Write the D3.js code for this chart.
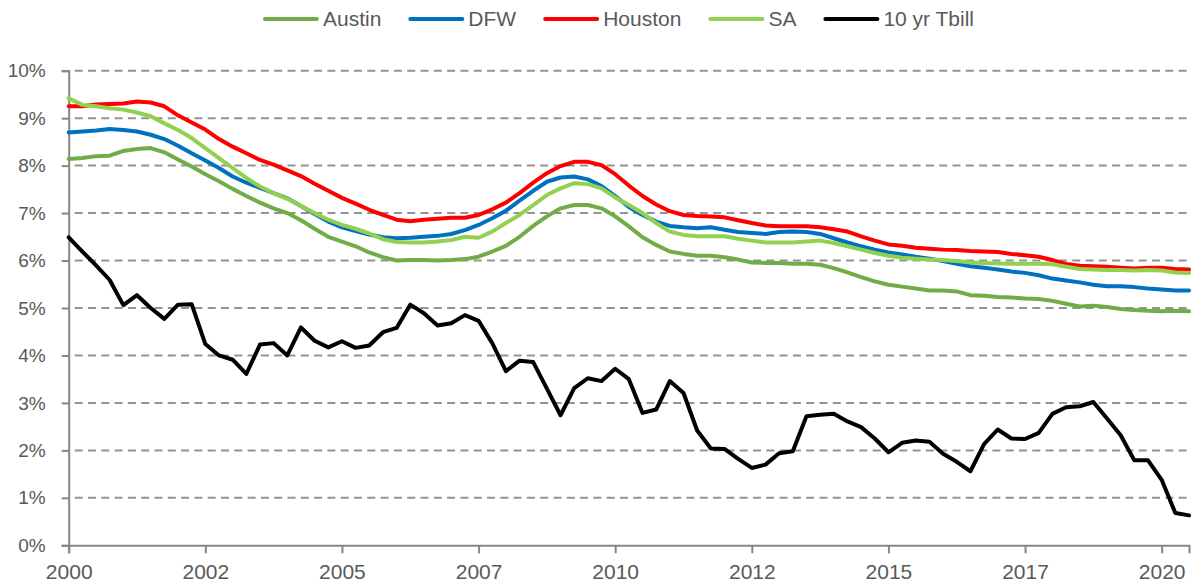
<!DOCTYPE html>
<html>
<head>
<meta charset="utf-8">
<script src="https://cdn.jsdelivr.net/npm/d3@7"></script>
<style>
  body { margin: 0; background: #fff; }
  text { font-family: "Liberation Sans", Arial, sans-serif; fill: #595959; }
</style>
</head>
<body>
<div class="chart"></div>
<script>
// quarterly rates, Q1 2000 .. Q3 2020
const austin = [8.14,8.16,8.20,8.21,8.31,8.35,8.37,8.28,8.13,7.98,7.82,7.67,7.51,7.36,7.22,7.10,7.00,6.85,6.67,6.50,
  6.40,6.30,6.17,6.07,6.00,6.01,6.01,6.00,6.01,6.03,6.08,6.19,6.31,6.50,6.73,6.93,7.10,7.17,7.17,7.10,
  6.93,6.72,6.49,6.33,6.19,6.14,6.10,6.10,6.07,6.02,5.96,5.95,5.95,5.93,5.93,5.91,5.84,5.75,5.65,5.56,
  5.49,5.45,5.41,5.37,5.37,5.35,5.27,5.26,5.23,5.22,5.20,5.19,5.15,5.09,5.03,5.05,5.02,4.98,4.96,4.94,
  4.93,4.94,4.93]
const dfw = [8.70,8.72,8.74,8.77,8.75,8.72,8.65,8.56,8.42,8.26,8.11,7.95,7.77,7.64,7.53,7.42,7.31,7.15,6.98,6.82,
  6.70,6.62,6.55,6.49,6.47,6.48,6.50,6.52,6.56,6.64,6.75,6.89,7.05,7.26,7.47,7.66,7.75,7.77,7.71,7.57,
  7.36,7.13,6.96,6.82,6.73,6.70,6.68,6.70,6.65,6.60,6.58,6.56,6.60,6.61,6.60,6.56,6.47,6.38,6.30,6.23,
  6.17,6.13,6.08,6.04,5.99,5.93,5.88,5.85,5.81,5.77,5.74,5.69,5.62,5.58,5.54,5.49,5.46,5.46,5.44,5.41,
  5.39,5.37,5.37]
const houston = [9.25,9.25,9.29,9.30,9.31,9.35,9.33,9.25,9.06,8.91,8.76,8.56,8.40,8.26,8.12,8.02,7.90,7.78,7.62,7.47,
  7.32,7.20,7.07,6.96,6.86,6.83,6.86,6.88,6.90,6.90,6.96,7.08,7.22,7.42,7.64,7.84,7.99,8.08,8.08,8.01,
  7.82,7.58,7.36,7.18,7.04,6.96,6.94,6.93,6.91,6.85,6.79,6.74,6.72,6.72,6.72,6.70,6.66,6.61,6.51,6.42,
  6.34,6.31,6.27,6.25,6.23,6.22,6.20,6.19,6.18,6.14,6.11,6.08,6.01,5.93,5.89,5.88,5.87,5.85,5.83,5.85,
  5.85,5.82,5.81]
const sa = [9.42,9.28,9.25,9.21,9.18,9.12,9.04,8.89,8.75,8.58,8.37,8.16,7.95,7.74,7.56,7.42,7.30,7.15,7.00,6.86,
  6.75,6.67,6.57,6.45,6.39,6.38,6.38,6.40,6.43,6.50,6.48,6.61,6.79,6.96,7.17,7.38,7.52,7.63,7.61,7.52,
  7.33,7.17,7.00,6.79,6.61,6.54,6.51,6.51,6.51,6.46,6.42,6.38,6.38,6.38,6.40,6.42,6.37,6.30,6.23,6.16,
  6.10,6.06,6.04,6.02,6.01,5.99,5.96,5.95,5.94,5.93,5.93,5.93,5.92,5.87,5.82,5.81,5.80,5.80,5.79,5.80,
  5.79,5.75,5.74]
const tbill = [6.49,6.19,5.90,5.59,5.06,5.27,5.00,4.77,5.07,5.08,4.24,4.00,3.91,3.61,4.23,4.26,4.00,4.59,4.31,4.17,
  4.30,4.16,4.21,4.49,4.58,5.07,4.89,4.63,4.68,4.85,4.73,4.26,3.67,3.89,3.86,3.30,2.74,3.31,3.52,3.46,
  3.72,3.50,2.79,2.86,3.46,3.21,2.42,2.04,2.03,1.82,1.63,1.70,1.94,1.98,2.72,2.75,2.77,2.61,2.49,2.25,
  1.96,2.16,2.21,2.18,1.93,1.76,1.56,2.13,2.44,2.25,2.24,2.37,2.77,2.91,2.93,3.02,2.67,2.32,1.79,1.79,
  1.38,0.68,0.63]

const seriesNames = ['Austin', 'DFW', 'Houston', 'SA', '10 yr Tbill']
const seriesColors = ['#70AD47', '#0070C0', '#FF0000', '#92D050', '#000000']
const seriesValues = [austin, dfw, houston, sa, tbill]

const quarters = d3.range(austin.length).map(i => 2000 + i / 4)
const xTicks = [2000, 2002.5, 2005, 2007.5, 2010, 2012.5, 2015, 2017.5, 2020]
const xTickLabels = ['2000', '2002', '2005', '2007', '2010', '2012', '2015', '2017', '2020']
const yTicks = [0, 1, 2, 3, 4, 5, 6, 7, 8, 9, 10]

const width = 1194
const height = 588
const margin = {top: 70.7, right: 5, bottom: 42.7, left: 68.7}

const svg = d3.select('.chart')
  .append('svg')
  .attr('width', width)
  .attr('height', height)

const x = d3.scaleLinear()
  .domain([2000, quarters[quarters.length - 1]])
  .range([margin.left, width - margin.right])

const y = d3.scaleLinear()
  .domain([0, 10])
  .range([height - margin.bottom, margin.top])

// gridlines
svg.append('g')
  .selectAll('line')
  .data(yTicks.filter(d => d > 0))
  .enter().append('line')
    .attr('x1', x.range()[0])
    .attr('x2', x.range()[1])
    .attr('y1', d => y(d))
    .attr('y2', d => y(d))
    .attr('stroke', '#939393')
    .attr('stroke-width', 2)
    .attr('stroke-dasharray', '8,5.3')
    .attr('stroke-dashoffset', -6)

// y axis
const yAxis = svg.append('g')
  .attr('transform', `translate(${margin.left},0)`)
  .call(d3.axisLeft(y).tickValues(yTicks).tickSize(7).tickPadding(16).tickFormat(d => d + '%'))
yAxis.select('.domain').attr('stroke', '#868686').attr('stroke-width', 2)
yAxis.selectAll('.tick line').attr('stroke', '#868686').attr('stroke-width', 2)
yAxis.selectAll('.tick text').style('font-size', '19px').attr('fill', '#595959')
  .attr('font-family', null)

// x axis
const xAxis = svg.append('g')
  .attr('transform', `translate(0,${y(0)})`)
  .call(d3.axisBottom(x).tickValues(xTicks).tickSize(8).tickPadding(11)
    .tickFormat((d, i) => xTickLabels[i]))
xAxis.select('.domain').attr('stroke', '#868686').attr('stroke-width', 2)
xAxis.selectAll('.tick line').attr('stroke', '#868686').attr('stroke-width', 2)
xAxis.selectAll('.tick text').style('font-size', '21px').attr('fill', '#595959')
  .attr('font-family', null)

// lines
const line = d3.line()
  .x((d, i) => x(quarters[i]))
  .y(d => y(d))

svg.append('g')
  .selectAll('path')
  .data(seriesValues)
  .enter().append('path')
    .attr('d', d => line(d))
    .attr('fill', 'none')
    .attr('stroke', (d, i) => seriesColors[i])
    .attr('stroke-width', 4)
    .attr('stroke-linejoin', 'round')
    .attr('stroke-linecap', 'round')

// legend
const legend = svg.append('g')
const items = legend.selectAll('g')
  .data(seriesNames)
  .enter().append('g')
items.append('line')
  .attr('x1', 0).attr('x2', 52)
  .attr('y1', 19).attr('y2', 19)
  .attr('stroke', (d, i) => seriesColors[i])
  .attr('stroke-width', 4)
  .attr('stroke-linecap', 'round')
items.append('text')
  .attr('x', 58)
  .attr('y', 19)
  .attr('dy', '0.35em')
  .style('font-size', '21px')
  .text(d => d)

let cursor = 0
items.each(function() {
  const w = d3.select(this).select('text').node().getComputedTextLength()
  d3.select(this).attr('transform', `translate(${cursor},0)`)
  cursor += 58 + w + 29
})
const total = cursor - 29
legend.attr('transform', `translate(${619.5 - total / 2},0)`)
</script>
</body>
</html>
